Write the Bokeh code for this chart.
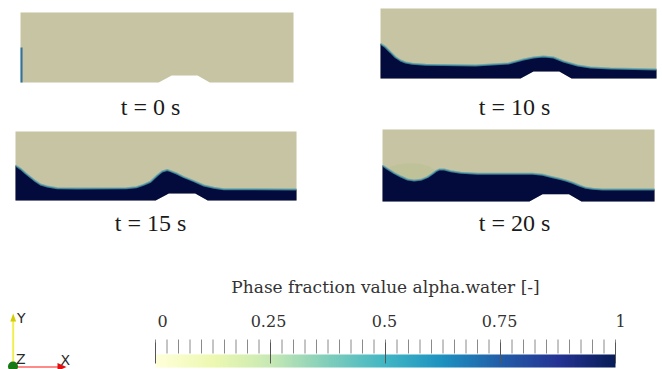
import numpy as np
from bokeh.plotting import figure
from bokeh.layouts import column, row
from bokeh.models import Range1d, Label, LinearColorMapper
from bokeh.core.properties import value
from bokeh.palettes import YlGnBu9
from bokeh.embed import file_html
from bokeh.resources import INLINE

# ---------------- data ----------------
# obstacle (bump) on channel floor, domain height 10
bump_x = [20.3, 22.2, 26.0, 27.8]
bump_y = [0.0, 1.0, 1.0, 0.0]
domain_top = 10.0

time_labels = ["t = 0 s", "t = 10 s", "t = 15 s", "t = 20 s"]

# t = 0 s : thin water column at the left wall
t0_col_left, t0_col_right, t0_col_top = 0.0, 0.3, 5.0

# free-surface heights
t10_x = [-0.3, 0.44, 1.17, 1.91, 2.64, 3.38, 4.36, 6.32, 13.67, 18.53, 20.74, 22.21,
         23.68, 25.15, 26.62, 28.68, 30.59, 33.53, 40.3]
t10_y = [4.96, 4.47, 3.76, 3.04, 2.57, 2.29, 2.10, 1.96, 1.86, 2.14, 2.71, 3.00,
         3.14, 3.00, 2.43, 1.86, 1.57, 1.43, 1.29]

t15_x = [0.1, 0.82, 1.54, 2.26, 2.98, 3.70, 4.67, 6.11, 9.04, 16.08, 17.52, 18.55,
         19.56, 20.52, 21.24, 21.97, 22.44, 23.41, 24.36, 25.80, 27.24, 28.68, 30.12, 40.6]
t15_y = [5.07, 4.59, 3.96, 3.38, 2.80, 2.32, 2.03, 1.78, 1.74, 1.78, 1.93, 2.27,
         2.72, 3.62, 4.20, 4.42, 4.25, 3.87, 3.38, 2.80, 2.17, 1.84, 1.64, 1.59]

t20_x = [-0.9, -0.18, 0.79, 1.74, 2.71, 3.67, 4.63, 5.59, 6.32, 6.79, 7.28, 8.0, 8.96,
         10.40, 12.81, 17.61, 20.75, 22.19, 23.63, 24.60, 25.55, 26.52, 27.48, 28.44,
         29.40, 30.85, 38.35]
t20_y = [5.0, 4.54, 3.93, 3.47, 3.06, 2.92, 3.01, 3.38, 3.85, 4.21, 4.44, 4.44, 4.21,
         3.99, 3.85, 3.85, 3.85, 3.71, 3.38, 3.15, 2.92, 2.60, 2.22, 1.90,
         1.76, 1.67, 1.67]

# t = 20 s : air/water mixing zone in the trough
mix_x = [0.0, 1.2, 2.8, 4.4, 5.8, 6.6, 6.32, 5.59, 4.63, 3.67, 2.71, 1.74, 0.79]
mix_y = [4.75, 5.1, 5.3, 5.25, 4.9, 4.4, 3.85, 3.38, 3.01, 2.92, 3.06, 3.47, 3.93]

# colour bar
cbar_ticks = [0, 0.25, 0.5, 0.75, 1]
cbar_tick_labels = ["0", "0.25", "0.5", "0.75", "1"]
cbar_minor = [round(i * 0.025, 3) for i in range(41)]
cbar_title = "Phase fraction value alpha.water [-]"

# styles
cbar_label_shift = [7, -2, -1, -1, 5]
AIR = "#c6c4a2"
WATER = "#020b3c"
EDGE = "#4f9fae"

def bare_figure(w, h, xr, yr):
    p = figure(width=w, height=h, x_range=Range1d(*xr), y_range=Range1d(*yr),
               output_backend="svg", toolbar_location=None, title=None,
               x_axis_location=None, y_axis_location=None, min_border=0)
    p.outline_line_color = None
    p.xgrid.visible = False
    p.ygrid.visible = False
    return p

# ---------------- panels ----------------
def make_panel(w, h, xr, yr, dom, sx, sy, label, lx, ly, col=None, extra=None):
    p = bare_figure(w, h, xr, yr)
    x0, x1 = dom
    air_x = [x0] + bump_x + [x1, x1, x0]
    air_y = [0.0] + bump_y + [0.0, domain_top, domain_top]
    p.patch(air_x, air_y, fill_color=AIR, line_color=None)
    if sx is not None:
        wx = list(sx) + [sx[-1]] + bump_x[::-1] + [sx[0]]
        wy = list(sy) + [0.0] + bump_y[::-1] + [0.0]
        p.patch(wx, wy, fill_color=WATER, line_color=None)
        if extra is not None:
            p.patch(extra[0], extra[1], fill_color="#b3c08a", fill_alpha=0.35, line_color=None)
        p.line(sx, sy, line_color=EDGE, line_width=2.0, line_alpha=0.75)
    if col is not None:
        p.quad(left=[col[0]], right=[col[1]], bottom=[0.0], top=[col[2]],
               fill_color="#2f73a0", line_color=None)
    p.add_layout(Label(x=lx, y=ly, text=label, text_align="center",
                       text_baseline="alphabetic", text_font="Liberation Serif",
                       text_font_size="24px", text_color="#1a1a1a"))
    return p

p1 = make_panel(331, 120, (-2.94, 45.68), (-5.43, 11.71), (0.0, 40.1), None, None,
                time_labels[0], 19.1, -3.57, col=(t0_col_left, t0_col_right, t0_col_top))
p2 = make_panel(331, 120, (-7.51, 41.18), (-6.0, 11.14), (-0.3, 40.3), t10_x, t10_y,
                time_labels[1], 19.41, -4.14)
p3 = make_panel(331, 125, (-2.06, 45.64), (-6.52, 11.59), (0.1, 40.6), t15_x, t15_y,
                time_labels[2], 19.56, -3.19)
p4 = make_panel(331, 125, (-8.26, 39.5), (-6.11, 11.25), (-0.9, 38.35), t20_x, t20_y,
                time_labels[3], 18.15, -3.05, extra=(mix_x, mix_y))

# ---------------- orientation triad (y measured up from the page bottom) ----------------
tri = bare_figure(140, 124, (0, 140), (0, 124))
tri.line([12.7, 12.7], [5, 49], line_color="#f2ee50", line_width=2)
tri.patch([9.8, 15.6, 12.7], [48, 48, 56], fill_color="#d2cc00", line_color=None)
tri.line([15, 58], [2.5, 2.5], line_color="#ff8a8a", line_width=2)
tri.patch([57, 57, 66], [6.5, -1.5, 2.5], fill_color="#e01010", line_color=None)
tri.scatter([12.5], [3], size=10, marker="circle", fill_color="#157a15", line_color=None)
tri.text([16.5, 15.5, 60], [51.5, 10.5, 10], text=["Y", "Z", "X"],
         text_font=value("DejaVu Sans"), text_font_size=value("14px"),
         text_baseline="middle", text_align="left", text_color="#2a2a2a")

# ---------------- colour bar ----------------
pal = []
base = YlGnBu9[::-1]
def _hex(c):
    return np.array([int(c[i:i + 2], 16) for i in (1, 3, 5)], dtype=float)
for t in np.linspace(0, 1, 256):
    pos = t * (len(base) - 1)
    i = min(int(pos), len(base) - 2)
    f = pos - i
    c = (1 - f) * _hex(base[i]) + f * _hex(base[i + 1])
    pal.append("#%02x%02x%02x" % tuple(int(round(v)) for v in c))

# x: colour-bar value (bar spans 0..1), y: pixels up from the page bottom
cb = bare_figure(522, 124, (-15 / 460, 1 + 47 / 460), (0, 124))
mapper = LinearColorMapper(palette=pal, low=0, high=1)
cb.image(image=[np.linspace(0, 1, 256)[None, :]], x=0, y=2, dw=1, dh=13, color_mapper=mapper)
cb.segment(x0=cbar_minor, y0=[16] * len(cbar_minor), x1=cbar_minor, y1=[30] * len(cbar_minor),
           line_color="#8a8a8a", line_width=1)
cb.segment(x0=cbar_ticks, y0=[6] * len(cbar_ticks), x1=cbar_ticks, y1=[27] * len(cbar_ticks),
           line_color="#555555", line_width=1)
cb.text(x=cbar_ticks, y=[49] * len(cbar_ticks), text=cbar_tick_labels,
        x_offset=cbar_label_shift,
        text_font=value("DejaVu Serif"), text_font_size=value("16px"),
        text_align="center", text_baseline="middle", text_color="#333333")
cb.text(x=[0.5], y=[83], text=[cbar_title],
        text_font=value("DejaVu Serif"), text_font_size=value("17px"),
        text_align="center", text_baseline="middle", text_color="#333333")

layout = column(row(p1, p2), row(p3, p4), row(tri, cb))

open("out.html", "w").write(file_html(layout, INLINE))
